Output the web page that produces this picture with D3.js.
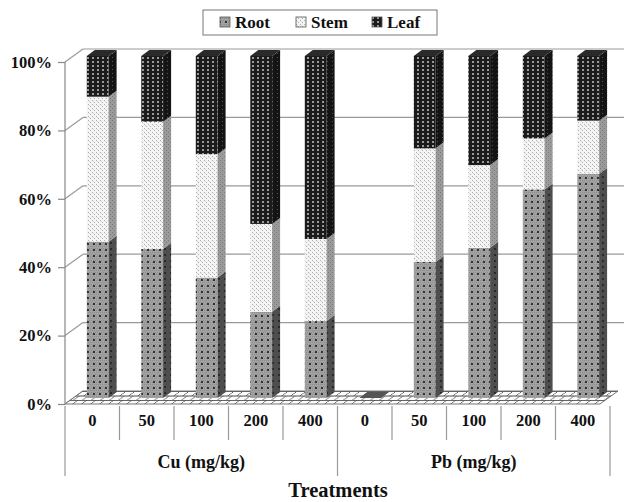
<!DOCTYPE html>
<html>
<head>
<meta charset="utf-8">
<script src="https://cdn.jsdelivr.net/npm/d3@7"></script>
<style>
  body { margin: 0; background: #fff; }
  text { font-family: "Liberation Serif", "Times New Roman", serif; font-weight: bold; fill: #111; }
</style>
</head>
<body>
<svg width="624" height="502"></svg>
<script>
var groups = ["Cu (mg/kg)", "Pb (mg/kg)"];
var doses = ["0", "50", "100", "200", "400"];
var seriesNames = ["Root", "Stem", "Leaf"];
// percent of total, one value per treatment (Cu 0..400, Pb 0..400)
var root = [45.7, 43.6, 35.2, 25.2, 22.5, 0, 39.8, 43.9, 61.0, 65.5];
var stem = [42.4, 37.2, 36.1, 25.7, 24.0, 0, 33.2, 24.2, 14.9, 15.6];
var leaf = [11.9, 19.2, 28.7, 49.1, 53.5, 0, 27.0, 31.9, 24.1, 18.9];
var yTicks = [0, 0.2, 0.4, 0.6, 0.8, 1];

var plotLeft = 65, plotRight = 610, plotBottom = 404, plotTop = 62;
var depth = { dx: 18, dy: -13 };   // wall / floor depth
var bar = { dx: 8, dy: -6, lift: -6 }; // bar side depth, bar sits mid floor

var svg = d3.select("svg");
var defs = svg.append("defs");

// patterns
function pattern(id, w, h, bg, dots) {
  var p = defs.append("pattern").attr("id", id)
    .attr("patternUnits", "userSpaceOnUse").attr("width", w).attr("height", h);
  p.append("rect").attr("width", w).attr("height", h).attr("fill", bg);
  dots.forEach(function (d) {
    p.append("rect").attr("x", d[0]).attr("y", d[1])
      .attr("width", d[2]).attr("height", d[2]).attr("fill", d[3]);
  });
  return p;
}
pattern("rootF", 6, 6, "#a2a2a2",
  [[0, 0, 1, "#8c8c8c"], [2, 0, 1, "#8c8c8c"], [4, 0, 1, "#8c8c8c"], [1, 2, 1, "#8c8c8c"], [3, 2, 1, "#8c8c8c"], [5, 2, 1, "#8c8c8c"],
   [0, 4, 1, "#8c8c8c"], [2, 4, 1, "#8c8c8c"], [4, 4, 1, "#8c8c8c"], [3, 3, 2, "#333"]]);
pattern("rootS", 6, 6, "#4e4e4e", [[2, 2, 2, "#2a2a2a"]]);
pattern("stemF", 4, 4, "#f4f4f4", [[0, 0, 1, "#b0b0b0"], [2, 2, 1, "#b0b0b0"], [1, 1, 1, "#d6d6d6"]]);
pattern("stemS", 4, 4, "#9a9a9a", [[0, 0, 1, "#777"], [2, 2, 1, "#777"]]);
pattern("leafF", 5, 4, "#1b1b1b", [[2, 1, 2, "#9a9a9a"]]);
pattern("leafS", 5, 4, "#141414", [[2, 1, 1, "#555"]]);

var bricks = defs.append("pattern").attr("id", "brick")
  .attr("patternUnits", "userSpaceOnUse").attr("width", 18).attr("height", 9)
  .attr("patternTransform", "translate(0,391) skewX(-54)");
bricks.append("rect").attr("width", 18).attr("height", 9).attr("fill", "#fdfdfd");
bricks.append("path").attr("d", "M0,0.5H18M0,5H18M0.5,0V5M9.5,0V5M5,5V9M14,5V9")
  .attr("stroke", "#555").attr("stroke-width", 1).attr("fill", "none");

var fills = {
  Root: ["url(#rootF)", "url(#rootS)", "#8a8a8a"],
  Stem: ["url(#stemF)", "url(#stemS)", "#dcdcdc"],
  Leaf: ["url(#leafF)", "url(#leafS)", "#2a2a2a"]
};

var n = groups.length * doses.length;
var x = d3.scaleBand().domain(d3.range(n)).range([plotLeft, plotRight]).padding(0);
var y = d3.scaleLinear().domain([0, 1]).range([plotBottom, plotTop]);
var bw = x.bandwidth();

// back wall gridlines + left wall diagonals
var grid = svg.append("g").attr("stroke", "#9a9a9a").attr("stroke-width", 1.2).attr("fill", "none");
yTicks.forEach(function (t) {
  var yy = y(t);
  if (t > 0) {
    grid.append("line").attr("x1", plotLeft + depth.dx).attr("x2", plotRight + depth.dx - 2)
      .attr("y1", yy + depth.dy).attr("y2", yy + depth.dy);
  }
  grid.append("line").attr("x1", plotLeft).attr("y1", yy)
    .attr("x2", plotLeft + depth.dx).attr("y2", yy + depth.dy);
});

// floor
svg.append("path")
  .attr("d", "M" + plotLeft + "," + plotBottom + "L" + (plotRight - 10) + "," + plotBottom +
    "L" + (plotRight - 10 + depth.dx) + "," + (plotBottom + depth.dy) +
    "L" + (plotLeft + depth.dx) + "," + (plotBottom + depth.dy) + "Z")
  .attr("fill", "url(#brick)").attr("stroke", "#666").attr("stroke-width", 0.9);

// bars
var rows = d3.range(n).map(function (i) {
  return { Root: root[i] / 100, Stem: stem[i] / 100, Leaf: leaf[i] / 100 };
});
var stacked = d3.stack().keys(seriesNames)(rows);

var barsG = svg.append("g");
d3.range(n).forEach(function (i) {
  var x0 = x(i) + bw * 0.4, w = bw * 0.4;
  var g = barsG.append("g");
  var topY = y(0) + bar.lift, topName = null;
  stacked.forEach(function (s) {
    var d = s[i];
    var y0 = y(d[0]) + bar.lift, y1 = y(d[1]) + bar.lift;
    if (y0 - y1 <= 0) return;
    g.append("rect").attr("x", x0).attr("y", y1).attr("width", w).attr("height", y0 - y1)
      .attr("fill", fills[s.key][0]);
    g.append("path")
      .attr("d", "M" + (x0 + w) + "," + y0 + "L" + (x0 + w) + "," + y1 +
        "L" + (x0 + w + bar.dx) + "," + (y1 + bar.dy) + "L" + (x0 + w + bar.dx) + "," + (y0 + bar.dy) + "Z")
      .attr("fill", fills[s.key][1]);
    topY = y1; topName = s.key;
  });
  g.append("path")
    .attr("d", "M" + x0 + "," + topY + "L" + (x0 + w) + "," + topY +
      "L" + (x0 + w + bar.dx) + "," + (topY + bar.dy) + "L" + (x0 + bar.dx) + "," + (topY + bar.dy) + "Z")
    .attr("fill", topName ? fills[topName][2] : "#555");
});

// y axis
var yAxis = d3.axisLeft(y).tickValues(yTicks).tickFormat(d3.format(".0%")).tickSize(7).tickPadding(6);
var ya = svg.append("g").attr("transform", "translate(" + plotLeft + ",0)").call(yAxis);
ya.attr("font-family", null).attr("font-size", null);
ya.select(".domain").attr("stroke", "#888").attr("stroke-width", 1.2).attr("d", "M0," + plotTop + "V" + plotBottom);
ya.selectAll(".tick line").attr("stroke", "#888").attr("stroke-width", 1.2);
ya.selectAll(".tick text").style("font-size", "16.5px");

// category axis
var ax = svg.append("g").attr("stroke", "#999").attr("stroke-width", 1.2);
d3.range(n + 1).forEach(function (i) {
  var xx = i < n ? x(i) : plotRight;
  var isGroup = i % doses.length === 0;
  ax.append("line").attr("x1", xx).attr("x2", xx).attr("y1", plotBottom + 2).attr("y2", isGroup ? 476 : 440);
});
svg.append("g").selectAll("text").data(d3.range(n)).join("text")
  .attr("x", function (i) { return x(i) + bw / 2; })
  .attr("y", 426).attr("text-anchor", "middle").style("font-size", "16.5px")
  .text(function (i) { return doses[i % doses.length]; });
svg.append("g").selectAll("text").data(groups).join("text")
  .attr("x", function (d, gi) { return (x(gi * doses.length) + (gi + 1 < groups.length ? x((gi + 1) * doses.length) : plotRight)) / 2; })
  .attr("y", 468).attr("text-anchor", "middle").style("font-size", "18px")
  .text(function (d) { return d; });
svg.append("text").attr("x", 338).attr("y", 497).attr("text-anchor", "middle")
  .style("font-size", "20.5px").text("Treatments");

// legend
var lg = svg.append("g");
lg.append("rect").attr("x", 203).attr("y", 10).attr("width", 234).attr("height", 25)
  .attr("fill", "#fff").attr("stroke", "#777").attr("stroke-width", 1);
var lx = [220, 296, 372];
seriesNames.forEach(function (s, k) {
  lg.append("rect").attr("x", lx[k]).attr("y", 17).attr("width", 10).attr("height", 10)
    .attr("fill", fills[s][0]).attr("stroke", "#555").attr("stroke-width", 0.8);
  lg.append("text").attr("x", lx[k] + 15).attr("y", 28).style("font-size", "17px").text(s);
});
</script>
</body>
</html>
